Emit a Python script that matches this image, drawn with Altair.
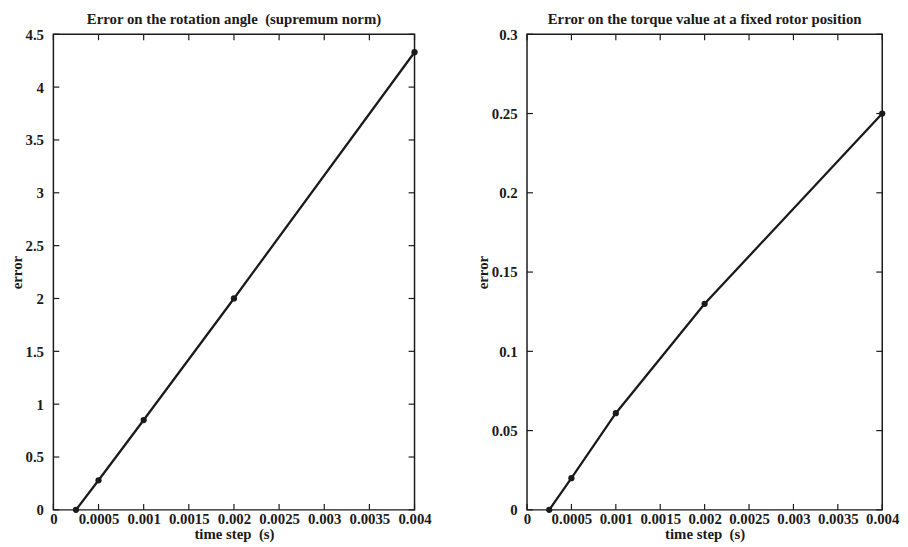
import altair as alt
import pandas as pd

# data
time_step = [0.00025, 0.0005, 0.001, 0.002, 0.004]
err_angle = [0.0, 0.28, 0.85, 2.0, 4.33]
err_torque = [0.0, 0.02, 0.061, 0.13, 0.25]

x_ticks = [0, 0.0005, 0.001, 0.0015, 0.002, 0.0025, 0.003, 0.0035, 0.004]
y_ticks_angle = [0, 0.5, 1, 1.5, 2, 2.5, 3, 3.5, 4, 4.5]
y_ticks_torque = [0, 0.05, 0.1, 0.15, 0.2, 0.25, 0.3]

title_angle = "Error on the rotation angle\u00a0 (supremum norm)"
title_torque = "Error on the torque value at a fixed rotor position"
x_title = "time step\u00a0 (s)"
y_title = "error"

FONT = "Liberation Serif"
H = 482
TL = 6
INK = "#1a1a1a"
FS = 15


def panel(values, yticks, ymax, title, w):
    df = pd.DataFrame({"t": time_step, "e": values})
    xs = alt.Scale(domain=[0, 0.004], nice=False, zero=False)
    ys = alt.Scale(domain=[0, ymax], nice=False, zero=False)
    xaxis = alt.Axis(values=x_ticks, format="~g", ticks=False, domain=False, grid=False,
                     labelPadding=2, titlePadding=0, labelFlush=False, labelOverlap=False)
    yaxis = alt.Axis(values=yticks, format="~g", ticks=False, domain=False, grid=False,
                     labelPadding=10, titlePadding=1)

    def X(field):
        return alt.X(f"{field}:Q", scale=xs, axis=xaxis, title=x_title)

    def Y(field):
        return alt.Y(f"{field}:Q", scale=ys, axis=yaxis, title=y_title)

    base = alt.Chart(df)
    line = base.mark_line(color=INK, strokeWidth=2.3).encode(x=X("t"), y=Y("e"))
    pts = base.mark_point(filled=True, color=INK, size=40, opacity=1).encode(x=X("t"), y=Y("e"))
    xt = alt.Chart(pd.DataFrame({"t": x_ticks}))
    yt = alt.Chart(pd.DataFrame({"e": yticks}))
    rule = dict(color=INK, strokeWidth=1.2)
    bx = xt.mark_rule(**rule).encode(x=X("t"), y=alt.value(H), y2=alt.value(H - TL))
    tx = xt.mark_rule(**rule).encode(x=X("t"), y=alt.value(0), y2=alt.value(TL))
    ly = yt.mark_rule(**rule).encode(y=Y("e"), x=alt.value(0), x2=alt.value(TL))
    ry = yt.mark_rule(**rule).encode(y=Y("e"), x=alt.value(w), x2=alt.value(w - TL))
    return alt.layer(line, pts, bx, tx, ly, ry).properties(
        width=w, height=H,
        title=alt.TitleParams(title, font=FONT, fontSize=15, fontWeight="bold",
                              color=INK, offset=0, frame="group"),
    )


left = panel(err_angle, y_ticks_angle, 4.5, title_angle, 366)
right = panel(err_torque, y_ticks_torque, 0.3, title_torque, 360)

chart = alt.hconcat(left, right, spacing=114, bounds="flush").properties(
    padding=0
).configure_view(
    stroke=INK, strokeWidth=1.5
).configure_axis(
    labelFont=FONT, titleFont=FONT, labelFontSize=FS, titleFontSize=FS,
    labelFontWeight="bold", titleFontWeight="bold",
    labelColor=INK, titleColor=INK,
)

chart.save("out.html", embed_options={"renderer": "svg", "actions": False})
